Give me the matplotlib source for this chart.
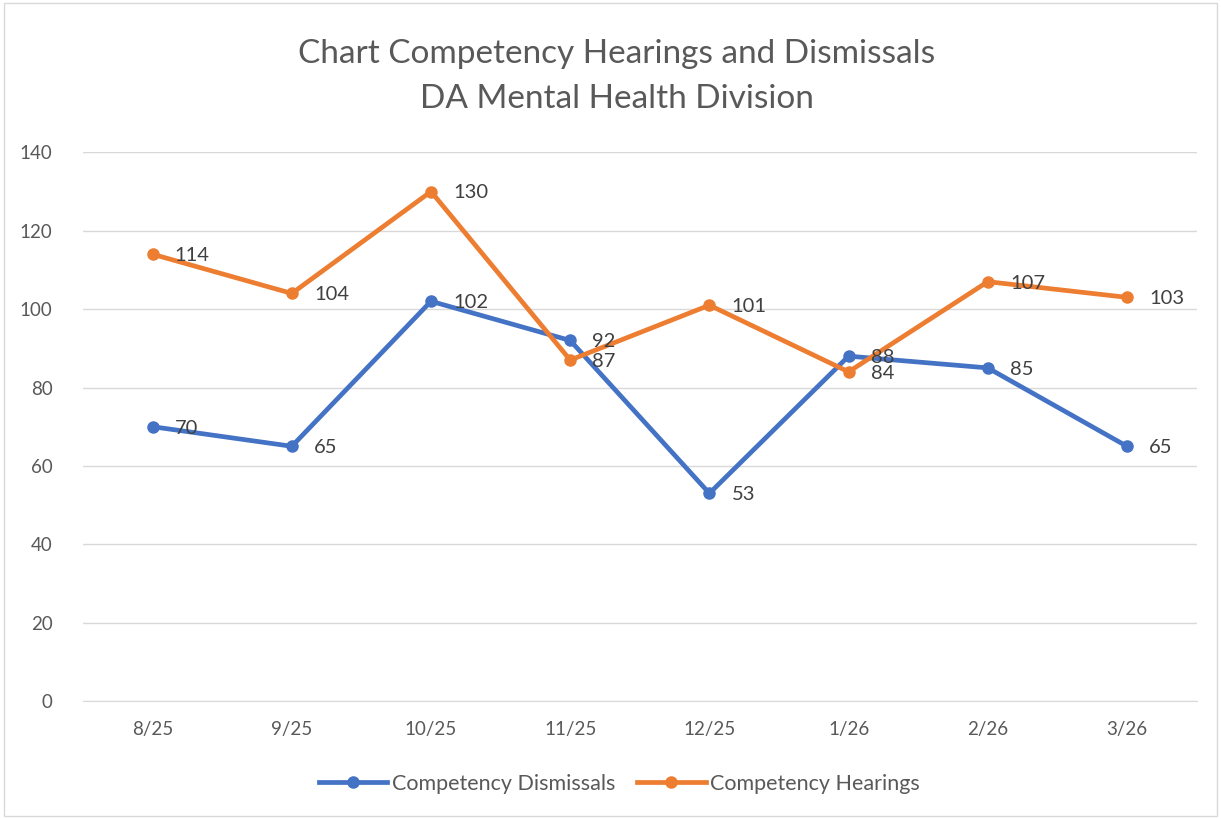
#!/usr/bin/env python3
"""Competency hearings and dismissals line chart."""

import matplotlib

matplotlib.use("Agg")
import matplotlib.pyplot as plt
from matplotlib.patches import Rectangle

months = ["8/25", "9/25", "10/25", "11/25", "12/25", "1/26", "2/26", "3/26"]
dismissals = [70, 65, 102, 92, 53, 88, 85, 65]
hearings = [114, 104, 130, 87, 101, 84, 107, 103]

BLUE = "#4472C4"
ORANGE = "#ED7D31"
TEXT = "#595959"

plt.rcParams["font.family"] = ["Lato", "DejaVu Sans"]

fig = plt.figure(figsize=(12.21, 8.19), dpi=100)
ax = fig.add_axes([0.068, 0.144, 0.912, 0.670])

x = list(range(len(months)))
ax.plot(x, dismissals, color=BLUE, lw=3.4, marker="o", ms=8, label="Competency Dismissals",
        solid_joinstyle="round", zorder=3)
ax.plot(x, hearings, color=ORANGE, lw=3.4, marker="o", ms=8, label="Competency Hearings",
        solid_joinstyle="round", zorder=3)

for xs, ys in [(x, dismissals), (x, hearings)]:
    for xi, yi in zip(xs, ys):
        ax.annotate(str(yi), (xi, yi), xytext=(16, -1), textcoords="offset points",
                    va="center", ha="left", fontsize=14.5, color="#404040", zorder=4)

ax.set_xlim(-0.5, len(months) - 0.5)
ax.set_ylim(0, 140)
ax.set_yticks(range(0, 141, 20))
ax.set_xticks(x, months)
ax.tick_params(axis="both", length=0, labelsize=13.5, labelcolor=TEXT)
ax.tick_params(axis="x", pad=14)
ax.tick_params(axis="y", pad=22)
ax.grid(axis="y", color="#D9D9D9", lw=1.0)
ax.set_axisbelow(True)
for side in ["top", "right", "left"]:
    ax.spines[side].set_visible(False)
ax.spines["bottom"].set_color("#D9D9D9")

fig.text(0.505, 0.934, "Chart Competency Hearings and Dismissals", ha="center", va="center",
         fontsize=24, color=TEXT)
fig.text(0.505, 0.879, "DA Mental Health Division", ha="center", va="center",
         fontsize=24, color=TEXT)

fig.legend(loc="center", bbox_to_anchor=(0.507, 0.043), ncol=2, frameon=False,
           fontsize=15.5, labelcolor=TEXT, handlelength=3.2, columnspacing=1.0, handletextpad=0.2)

fig.patches.append(Rectangle((0.003, 0.004), 0.994, 0.992, transform=fig.transFigure,
                             fill=False, edgecolor="#D9D9D9", lw=1.0))

fig.savefig("out.png", dpi=100)
